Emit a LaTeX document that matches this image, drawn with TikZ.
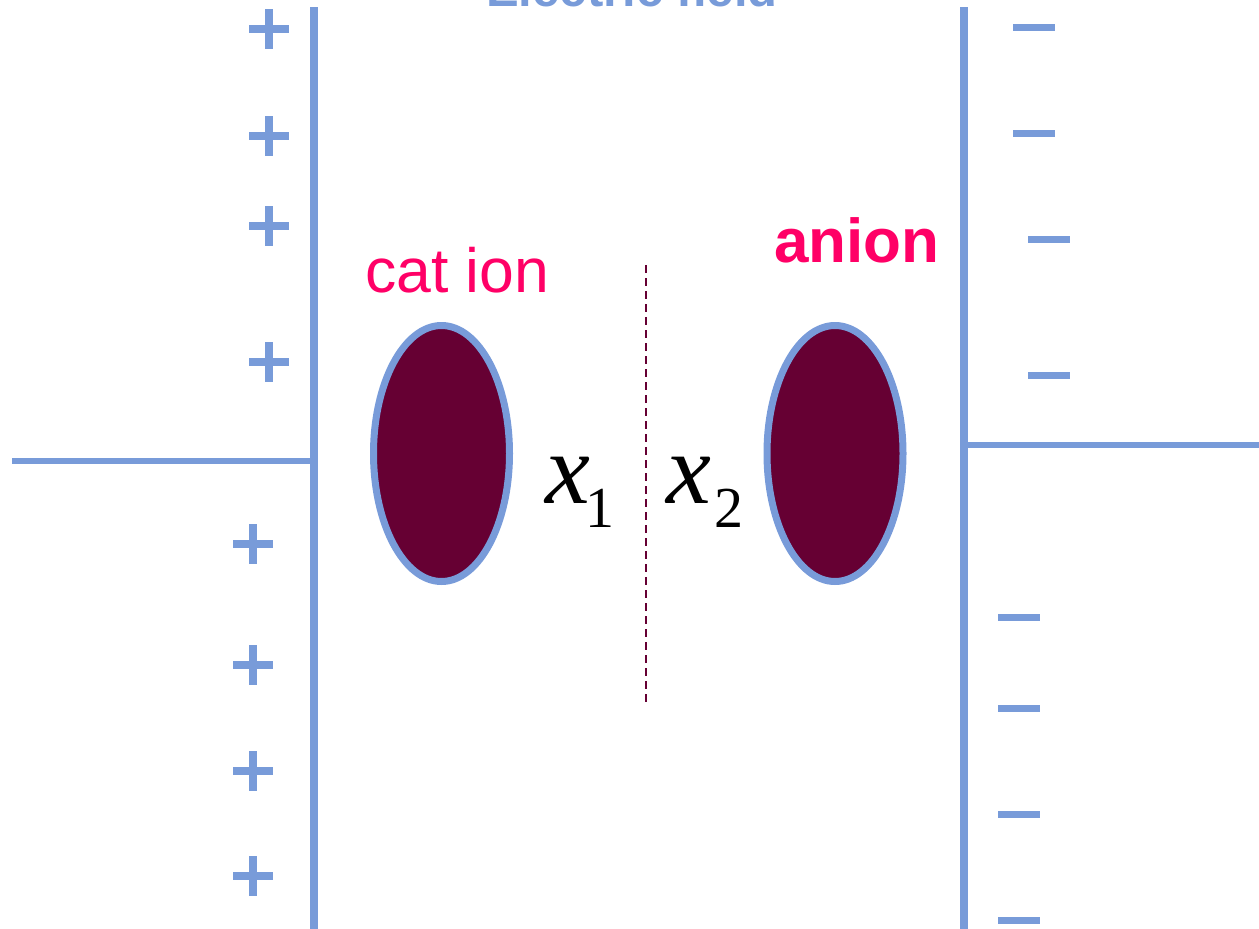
\documentclass[tikz,border=0pt]{standalone}
\usepackage{fontspec}
\setmainfont{Liberation Sans}
\newfontfamily\timesfont{Liberation Serif}
\usepackage{xcolor}
\usepackage{tikz}
\usetikzlibrary{shapes.geometric}

\definecolor{plateblue}{RGB}{120,155,217}
\definecolor{ionpink}{RGB}{255,0,102}
\definecolor{ionred}{RGB}{102,0,51}

\tikzset{
  plate/.style={plateblue, line width=8pt},
  ground/.style={plateblue, line width=6pt},
  charge/.style={plateblue, line width=8pt},
  ionbody/.style={ellipse, draw=plateblue, fill=ionred, line width=7pt,
    minimum width=136pt, minimum height=256pt, inner sep=0pt},
  ionlabel/.style={ionpink, anchor=base west, inner sep=0pt, font=\fontsize{62.5}{70}\selectfont},
  distlabel/.style={black, anchor=base west, inner sep=0pt, font=\timesfont\fontsize{101}{110}\selectfont},
}

\newcommand{\subdist}[3]{{\itshape #1}\kern#3pt\raisebox{-24pt}{\fontsize{58}{58}\selectfont #2}}

\begin{document}
\begin{tikzpicture}[x=1pt, y=-1pt]
      \useasboundingbox (0,0) rectangle (1259,929);

      % --- title, cut by the top edge ---
      \node[plateblue, anchor=base, inner sep=0pt, font=\bfseries\fontsize{49}{55}\selectfont] (title) at (632,6) {Electric field};

      % --- the two plates with their leads ---
      \draw[plate] (314,7) -- (314,929);
      \draw[plate] (964,7) -- (964,929);
      \draw[ground] (12,461) -- (314,461);
      \draw[ground] (964,445) -- (1259,445);

      % --- positive charges on the left plate ---
      \foreach \px/\py in {269/29, 269/136, 269/226, 269/362, 253/544, 253/665, 253/771, 253/876} {
        \draw[charge] (\px-20,\py) -- (\px+20,\py);
        \draw[charge] (\px,\py-20) -- (\px,\py+20);
      }

      % --- negative charges on the right plate ---
      \foreach \mx/\my in {1013/27, 1013/133, 1028/239, 1028/375, 998/617, 998/708, 998/814, 998/920} {
        \draw[plateblue, line width=7pt] (\mx,\my) -- (\mx+42,\my);
      }

      % --- the two ions ---
      \node[ionbody] (cation) at (441.5,453.5) {};
      \node[ionbody] (anion) at (835,453.5) {};
      \node[ionlabel] (catlabel) at (365,292) {cat ion};
      \node[ionlabel, font=\bfseries\fontsize{62}{70}\selectfont] (anlabel) at (774,262) {anion};

      % --- dividing line between the ions ---
      \coordinate (divtop) at (646,265);
      \coordinate (divbot) at (646,702);
      \draw[ionred, line width=2pt, dash pattern=on 8pt off 5pt] (divtop) -- (divbot);

      % --- distances ---
      \node[distlabel] (xone) at (545,503) {\subdist{x}{1}{-5}};
      \node[distlabel] (xtwo) at (666,503) {\subdist{x}{2}{3}};
    \end{tikzpicture}
\end{document}
